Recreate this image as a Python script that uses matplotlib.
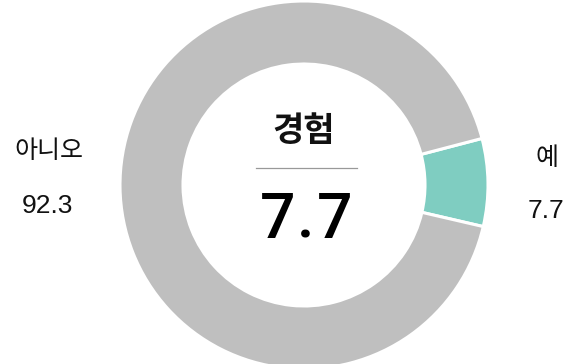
import matplotlib
matplotlib.use("Agg")
import matplotlib.pyplot as plt

plt.rcParams['font.family'] = ['Noto Sans CJK KR', 'DejaVu Sans']

# data
labels = ['예', '아니오']
values = [7.7, 92.3]
colors = ['#7fcdc1', '#bfbfbf']
center_title = '경험'
center_value = '7.7'

W, H = 567, 364
fig = plt.figure(figsize=(W / 100, H / 100), dpi=100)
ax = fig.add_axes([0, 0, 1, 1])

cx, cy = 304, H - 185
r_out, r_in = 184, 121

# the first slice is centred slightly above the 3 o'clock position
start = -values[0] / sum(values) * 360 / 2 + 0.8
ax.pie(values, colors=colors, startangle=start, counterclock=True,
       center=(cx, cy), radius=r_out, frame=True,
       wedgeprops=dict(width=r_out - r_in, edgecolor='white', linewidth=2.2))
ax.set_xlim(0, W)
ax.set_ylim(0, H)
ax.set_aspect('equal')
ax.axis('off')

num_font = ['Liberation Sans', 'DejaVu Sans']

# centre text
ax.text(cx, H - 131, center_title, ha='center', va='center',
        fontsize=24.5, fontweight='bold', color='#111111')
ax.plot([256, 357], [H - 168, H - 168], color='#999999', lw=0.9)

# big value, drawn glyph by glyph for the wide letter spacing
spacing = 28.5
n = len(center_value)
for i, ch in enumerate(center_value):
    ax.text(cx + 2 + (i - (n - 1) / 2) * spacing, H - 221, ch,
            ha='center', va='center', fontsize=45, color='#000000',
            family=['Roboto', 'DejaVu Sans'], fontweight='medium')

# outside labels
ax.text(49, H - 151, labels[1], ha='center', va='center', fontsize=18,
        color='#111111')
ax.text(47, H - 206, f'{values[1]:.1f}', ha='center', va='center',
        fontsize=19, color='#111111', family=num_font)
ax.text(547, H - 158, labels[0], ha='center', va='center', fontsize=18,
        color='#111111')
ax.text(546, H - 211, f'{values[0]:.1f}', ha='center', va='center',
        fontsize=19, color='#111111', family=num_font)

fig.savefig('out.png', dpi=100, facecolor='white')
